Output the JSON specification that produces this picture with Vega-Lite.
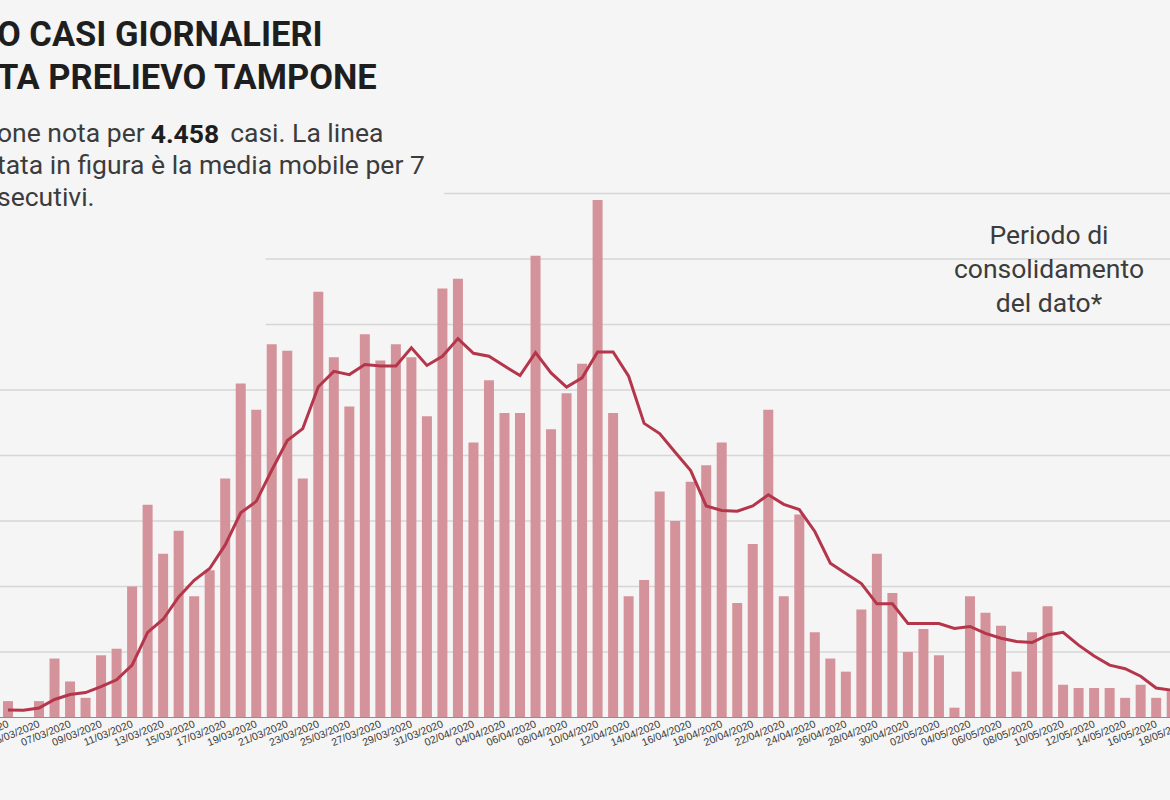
{
  "$schema": "https://vega.github.io/schema/vega-lite/v6.json",
  "width": 1170,
  "height": 524,
  "autosize": {"type": "none"},
  "padding": {"left": 0, "right": 0, "top": 193.5, "bottom": 82.5},
  "background": "#f5f5f5",
  "config": {"view": {"stroke": null}, "font": "Roboto"},
  "title": {
    "text": ["O CASI GIORNALIERI", "TA PRELIEVO TAMPONE"],
    "subtitle": ["one nota per\u00a0\u00a0\u00a0\u00a0\u00a0\u00a0\u00a0\u00a0\u00a0\u00a0\u00a0\u00a0\u00a0casi. La linea", "tata in figura è la media mobile per 7", "secutivi."],
    "anchor": "start",
    "frame": "group",
    "orient": "top",
    "dx": -3,
    "offset": -90.5,
    "font": "Roboto",
    "fontSize": 34.5,
    "fontWeight": 700,
    "color": "#1e1e1e",
    "lineHeight": 43,
    "subtitleFont": "Roboto",
    "subtitleFontSize": 26.5,
    "subtitleFontWeight": 400,
    "subtitleColor": "#3c3c3c",
    "subtitleLineHeight": 32,
    "subtitlePadding": 25
  },
  "datasets": {
    "griglia": [
      {"v": 20}, {"v": 40}, {"v": 60}, {"v": 80}, {"v": 100}, {"v": 120}, {"v": 140}, {"v": 160}
    ],
    "etichette": [
      {"date": "2020-03-03"}, {"date": "2020-03-05"}, {"date": "2020-03-07"}, {"date": "2020-03-09"},
      {"date": "2020-03-11"}, {"date": "2020-03-13"}, {"date": "2020-03-15"}, {"date": "2020-03-17"},
      {"date": "2020-03-19"}, {"date": "2020-03-21"}, {"date": "2020-03-23"}, {"date": "2020-03-25"},
      {"date": "2020-03-27"}, {"date": "2020-03-29"}, {"date": "2020-03-31"}, {"date": "2020-04-02"},
      {"date": "2020-04-04"}, {"date": "2020-04-06"}, {"date": "2020-04-08"}, {"date": "2020-04-10"},
      {"date": "2020-04-12"}, {"date": "2020-04-14"}, {"date": "2020-04-16"}, {"date": "2020-04-18"},
      {"date": "2020-04-20"}, {"date": "2020-04-22"}, {"date": "2020-04-24"}, {"date": "2020-04-26"},
      {"date": "2020-04-28"}, {"date": "2020-04-30"}, {"date": "2020-05-02"}, {"date": "2020-05-04"},
      {"date": "2020-05-06"}, {"date": "2020-05-08"}, {"date": "2020-05-10"}, {"date": "2020-05-12"},
      {"date": "2020-05-14"}, {"date": "2020-05-16"}, {"date": "2020-05-18"}
    ],
    "casi": [
      {"date": "2020-03-03", "casi": 5, "media": 2.3},
      {"date": "2020-03-04", "casi": 0, "media": 2.2},
      {"date": "2020-03-05", "casi": 5, "media": 2.9},
      {"date": "2020-03-06", "casi": 18, "media": 5.5},
      {"date": "2020-03-07", "casi": 11, "media": 7},
      {"date": "2020-03-08", "casi": 6, "media": 7.6},
      {"date": "2020-03-09", "casi": 19, "media": 9.4},
      {"date": "2020-03-10", "casi": 21, "media": 11.5},
      {"date": "2020-03-11", "casi": 40, "media": 16},
      {"date": "2020-03-12", "casi": 65, "media": 26},
      {"date": "2020-03-13", "casi": 50, "media": 30},
      {"date": "2020-03-14", "casi": 57, "media": 36.8},
      {"date": "2020-03-15", "casi": 37, "media": 41.9},
      {"date": "2020-03-16", "casi": 45, "media": 45.5},
      {"date": "2020-03-17", "casi": 73, "media": 52.7},
      {"date": "2020-03-18", "casi": 102, "media": 62.5},
      {"date": "2020-03-19", "casi": 94, "media": 66},
      {"date": "2020-03-20", "casi": 114, "media": 75.5},
      {"date": "2020-03-21", "casi": 112, "media": 84.6},
      {"date": "2020-03-22", "casi": 73, "media": 88.2},
      {"date": "2020-03-23", "casi": 130, "media": 101},
      {"date": "2020-03-24", "casi": 110, "media": 105.7},
      {"date": "2020-03-25", "casi": 95, "media": 104.7},
      {"date": "2020-03-26", "casi": 117, "media": 107.8},
      {"date": "2020-03-27", "casi": 109, "media": 107.3},
      {"date": "2020-03-28", "casi": 114, "media": 107.3},
      {"date": "2020-03-29", "casi": 110, "media": 112.9},
      {"date": "2020-03-30", "casi": 92, "media": 107.5},
      {"date": "2020-03-31", "casi": 131, "media": 110.3},
      {"date": "2020-04-01", "casi": 134, "media": 115.7},
      {"date": "2020-04-02", "casi": 84, "media": 111.2},
      {"date": "2020-04-03", "casi": 103, "media": 110.3},
      {"date": "2020-04-04", "casi": 93, "media": 107.3},
      {"date": "2020-04-05", "casi": 93, "media": 104.4},
      {"date": "2020-04-06", "casi": 141, "media": 111.4},
      {"date": "2020-04-07", "casi": 88, "media": 105.2},
      {"date": "2020-04-08", "casi": 99, "media": 100.9},
      {"date": "2020-04-09", "casi": 108, "media": 103.7},
      {"date": "2020-04-10", "casi": 158, "media": 111.6},
      {"date": "2020-04-11", "casi": 93, "media": 111.6},
      {"date": "2020-04-12", "casi": 37, "media": 104.2},
      {"date": "2020-04-13", "casi": 42, "media": 89.8},
      {"date": "2020-04-14", "casi": 69, "media": 86.7},
      {"date": "2020-04-15", "casi": 60, "media": 81},
      {"date": "2020-04-16", "casi": 72, "media": 75.4},
      {"date": "2020-04-17", "casi": 77, "media": 64.6},
      {"date": "2020-04-18", "casi": 84, "media": 63.2},
      {"date": "2020-04-19", "casi": 35, "media": 63},
      {"date": "2020-04-20", "casi": 53, "media": 64.6},
      {"date": "2020-04-21", "casi": 94, "media": 68},
      {"date": "2020-04-22", "casi": 37, "media": 65.1},
      {"date": "2020-04-23", "casi": 62, "media": 63.5},
      {"date": "2020-04-24", "casi": 26, "media": 56.8},
      {"date": "2020-04-25", "casi": 18, "media": 47.1},
      {"date": "2020-04-26", "casi": 14, "media": 44},
      {"date": "2020-04-27", "casi": 33, "media": 40.9},
      {"date": "2020-04-28", "casi": 50, "media": 34.7},
      {"date": "2020-04-29", "casi": 38, "media": 34.7},
      {"date": "2020-04-30", "casi": 20, "media": 28.7},
      {"date": "2020-05-01", "casi": 27, "media": 28.7},
      {"date": "2020-05-02", "casi": 19, "media": 28.7},
      {"date": "2020-05-03", "casi": 3, "media": 27.2},
      {"date": "2020-05-04", "casi": 37, "media": 27.8},
      {"date": "2020-05-05", "casi": 32, "media": 25.7},
      {"date": "2020-05-06", "casi": 28, "media": 24.2},
      {"date": "2020-05-07", "casi": 14, "media": 23.2},
      {"date": "2020-05-08", "casi": 26, "media": 22.9},
      {"date": "2020-05-09", "casi": 34, "media": 25.2},
      {"date": "2020-05-10", "casi": 10, "media": 26},
      {"date": "2020-05-11", "casi": 9, "media": 22.1},
      {"date": "2020-05-12", "casi": 9, "media": 18.8},
      {"date": "2020-05-13", "casi": 9, "media": 16},
      {"date": "2020-05-14", "casi": 6, "media": 14.9},
      {"date": "2020-05-15", "casi": 10, "media": 12.6},
      {"date": "2020-05-16", "casi": 6, "media": 9},
      {"date": "2020-05-17", "casi": 8, "media": 8.3}
    ]
  },
  "layer": [
    {
      "data": {"name": "griglia"},
      "mark": {"type": "rule", "color": "#d6d6d6", "strokeWidth": 1.5},
      "encoding": {
        "y": {
          "field": "v",
          "type": "quantitative",
          "axis": null,
          "scale": {"domain": [0, 160], "nice": false, "zero": true}
        }
      }
    },
    {
      "data": {"values": [{}]},
      "mark": {"type": "rect", "color": "#f5f5f5"},
      "encoding": {
        "x": {"datum": {"year": 2020, "month": 3, "date": 1, "utc": true}, "type": "temporal", "axis": null},
        "x2": {"datum": {"year": 2020, "month": 3, "date": 31, "hours": 2, "minutes": 45, "utc": true}},
        "y": {"datum": 150, "type": "quantitative", "axis": null},
        "y2": {"datum": 162.5}
      }
    },
    {
      "data": {"values": [{}]},
      "mark": {"type": "rect", "color": "#f5f5f5"},
      "encoding": {
        "x": {"datum": {"year": 2020, "month": 3, "date": 1, "utc": true}, "type": "temporal", "axis": null},
        "x2": {"datum": {"year": 2020, "month": 3, "date": 19, "hours": 14, "minutes": 40, "utc": true}},
        "y": {"datum": 110, "type": "quantitative", "axis": null},
        "y2": {"datum": 150}
      }
    },
    {
      "data": {"name": "casi"},
      "mark": {"type": "bar", "width": 10, "color": "#d4939a"},
      "encoding": {
        "x": {
          "field": "date",
          "type": "temporal",
          "axis": null,
          "scale": {
            "type": "utc",
            "domain": [
              {"year": 2020, "month": 3, "date": 2, "hours": 19, "minutes": 24, "utc": true},
              {"year": 2020, "month": 5, "date": 16, "hours": 13, "minutes": 39, "utc": true}
            ]
          }
        },
        "y": {"field": "casi", "type": "quantitative", "axis": null}
      }
    },
    {
      "data": {"values": [{}]},
      "mark": {"type": "rule", "color": "#8f8f8f", "strokeWidth": 1},
      "encoding": {
        "y": {"datum": 0, "type": "quantitative", "axis": null}
      }
    },
    {
      "data": {"name": "casi"},
      "mark": {"type": "line", "color": "#b5364b", "strokeWidth": 3},
      "encoding": {
        "x": {"field": "date", "type": "temporal", "axis": null},
        "y": {"field": "media", "type": "quantitative", "axis": null}
      }
    },
    {
      "data": {"name": "etichette"},
      "mark": {"type": "text", "font": "Liberation Sans", "fontSize": 10.5, "color": "#3a3a3a", "angle": -22, "align": "right", "baseline": "middle", "dx": -2, "dy": 6},
      "encoding": {
        "x": {"field": "date", "type": "temporal", "axis": null},
        "y": {"datum": 0, "type": "quantitative", "axis": null},
        "text": {"field": "date", "type": "temporal", "timeUnit": "utcyearmonthdate", "format": "%d/%m/%Y"}
      }
    },
    {
      "data": {"values": [{}]},
      "mark": {"type": "text", "text": "4.458", "font": "Roboto", "fontWeight": 700, "fontSize": 26.5, "color": "#1e1e1e", "align": "left", "baseline": "alphabetic"},
      "encoding": {
        "x": {"datum": {"year": 2020, "month": 3, "date": 12, "hours": 4, "minutes": 48, "utc": true}, "type": "temporal", "axis": null},
        "y": {"datum": 175.4, "type": "quantitative", "axis": null}
      }
    },
    {
      "data": {"values": [{}]},
      "mark": {"type": "text", "text": ["Periodo di", "consolidamento", "del dato*"], "font": "Roboto", "fontSize": 26.5, "lineHeight": 34, "color": "#3c3c3c", "align": "center", "baseline": "alphabetic"},
      "encoding": {
        "x": {"datum": {"year": 2020, "month": 5, "date": 9, "hours": 2, "minutes": 10, "utc": true}, "type": "temporal", "axis": null},
        "y": {"datum": 144.5, "type": "quantitative", "axis": null}
      }
    }
  ]
}
